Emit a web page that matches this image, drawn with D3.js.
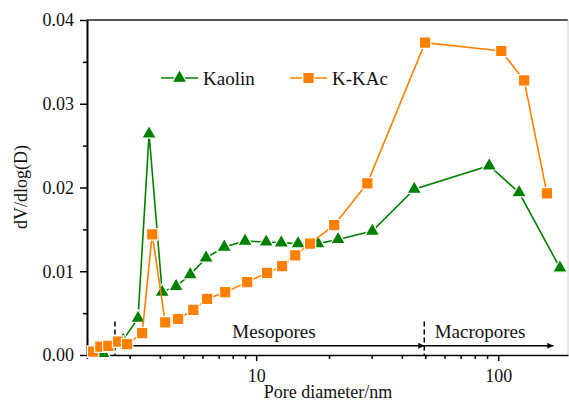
<!DOCTYPE html>
<html>
<head>
<meta charset="utf-8">
<script src="https://cdn.jsdelivr.net/npm/d3@7"></script>
<style>
  body { margin: 0; background: #fff; }
  svg, svg text { font-family: "Times New Roman", Times, "Liberation Serif", "DejaVu Serif", serif; }
  .axis path, .axis line { stroke: #000; }
  .axis text { font-size: 18px; fill: #111; }
</style>
</head>
<body>
<svg class="chart"></svg>
<script>
// Pore diameter (nm) and dV/dlog(D)
const kaolinD = [2.33, 2.82, 3.25, 3.61, 4.09, 4.67, 5.34, 6.21, 7.38, 9.0, 11.0, 12.7, 14.9, 18.0, 21.8, 30.2, 45.0, 91.8, 122, 180];
const kaolinV = [0.0002, 0.0018, 0.0044, 0.0264, 0.0075, 0.0082, 0.0096, 0.0116, 0.0129, 0.0136, 0.0135, 0.0134, 0.0133, 0.0133, 0.0138, 0.0148, 0.0198, 0.0226, 0.0194, 0.0104];

const kkacD = [2.12, 2.27, 2.45, 2.69, 2.93, 3.38, 3.72, 4.21, 4.76, 5.5, 6.27, 7.45, 9.18, 11.1, 12.8, 14.5, 16.7, 21.0, 28.8, 49.9, 103, 128, 159];
const kkacV = [0.0004, 0.001, 0.0011, 0.0016, 0.0013, 0.0026, 0.0144, 0.0039, 0.0043, 0.0054, 0.0067, 0.0075, 0.0087, 0.0098, 0.0106, 0.0119, 0.0133, 0.0155, 0.0205, 0.0373, 0.0363, 0.0328, 0.0193];

const xMajor = [10, 100];
const xMinor = [2, 3, 4, 5, 6, 7, 8, 9, 20, 30, 40, 50, 60, 70, 80, 90];
const yMajor = [0, 0.01, 0.02, 0.03, 0.04];
const yMinor = [0.005, 0.015, 0.025, 0.035];

// region annotation: boundaries (nm), arrow level, region names
const regionBounds = [2.61, 49.5, 169];
const arrowLevel = 0.0011;
const regionNames = ['Mesopores', 'Macropores'];

const series = [
  { name: 'Kaolin', d: kaolinD, v: kaolinV, color: '#008000', symbol: d3.symbolTriangle },
  { name: 'K-KAc', d: kkacD, v: kkacV, color: '#ff7f00', symbol: d3.symbolSquare }
];

const svgWidth = 569;
const svgHeight = 401;
const margin = {top: 20, right: 1, bottom: 46, left: 87};
const width = svgWidth - margin.left - margin.right;
const height = svgHeight - margin.top - margin.bottom;

const x = d3.scaleLog()
  .domain([2, 194.3])
  .range([0, width]);

const y = d3.scaleLinear()
  .domain([0, 0.04])
  .range([height, 0]);

const svg = d3.select('.chart')
  .attr('width', svgWidth)
  .attr('height', svgHeight)
  .append('g')
  .attr('transform', `translate(${margin.left},${margin.top})`);

// frame: top and right
svg.append('line')
  .attr('x1', 0).attr('x2', width).attr('y1', 0).attr('y2', 0)
  .attr('stroke', '#222').attr('stroke-width', 1.6);
svg.append('line')
  .attr('x1', width).attr('x2', width).attr('y1', 0).attr('y2', height)
  .attr('stroke', '#ccc').attr('stroke-width', 1);

// minor ticks first, then major with labels
svg.append('g')
  .attr('class', 'axis')
  .attr('transform', `translate(0,${height})`)
  .call(d3.axisBottom(x).tickValues(xMinor).tickSize(4).tickSizeOuter(0).tickFormat(''))
  .call(g => g.selectAll('line').attr('stroke-width', 1.5))
  .call(g => g.select('.domain').remove());

svg.append('g')
  .attr('class', 'axis')
  .attr('transform', `translate(0,${height})`)
  .call(d3.axisBottom(x).tickValues(xMajor).tickSize(6).tickSizeOuter(0).tickFormat(d3.format('d')))
  .call(g => g.attr('font-family', null))
  .call(g => g.selectAll('line').attr('stroke-width', 1.5))
  .call(g => g.select('.domain').attr('stroke-width', 1.6))
  .call(g => g.selectAll('text').attr('y', 14).attr('dy', '0.71em'));

svg.append('g')
  .attr('class', 'axis')
  .call(d3.axisLeft(y).tickValues(yMinor).tickSize(4).tickSizeOuter(0).tickFormat(''))
  .call(g => g.selectAll('line').attr('stroke-width', 1.5))
  .call(g => g.select('.domain').remove());

svg.append('g')
  .attr('class', 'axis')
  .call(d3.axisLeft(y).tickValues(yMajor).tickSize(7).tickSizeOuter(0).tickFormat(d3.format('.2f')))
  .call(g => g.attr('font-family', null))
  .call(g => g.selectAll('line').attr('stroke-width', 1.5))
  .call(g => g.select('.domain').attr('stroke-width', 2))
  .call(g => g.selectAll('text').attr('x', -13));

// arrow heads
const defs = svg.append('defs');
defs.append('marker')
  .attr('id', 'head')
  .attr('viewBox', '0 0 10 10')
  .attr('refX', 10).attr('refY', 5)
  .attr('markerWidth', 15).attr('markerHeight', 6)
  .attr('markerUnits', 'userSpaceOnUse')
  .attr('orient', 'auto-start-reverse')
  .append('path')
  .attr('d', 'M0,0L10,5L0,10Z')
  .attr('fill', '#000');

// region boundaries
svg.selectAll('.bound')
  .data(regionBounds.slice(0, 2))
  .enter().append('line')
  .attr('class', 'bound')
  .attr('x1', d => x(d)).attr('x2', d => x(d))
  .attr('y1', y(0.004)).attr('y2', height)
  .attr('stroke', '#000').attr('stroke-width', 1.5)
  .attr('stroke-dasharray', '5,3');

// region arrows
const ay = y(arrowLevel);
svg.append('line')
  .attr('x1', x(regionBounds[0])).attr('x2', x(regionBounds[1]))
  .attr('y1', ay).attr('y2', ay)
  .attr('stroke', '#000').attr('stroke-width', 1.5)
  .attr('marker-start', 'url(#head)')
  .attr('marker-end', 'url(#head)');
svg.append('line')
  .attr('x1', x(regionBounds[1])).attr('x2', x(regionBounds[2]))
  .attr('y1', ay).attr('y2', ay)
  .attr('stroke', '#000').attr('stroke-width', 1.5)
  .attr('marker-end', 'url(#head)');

svg.selectAll('.region')
  .data(regionNames)
  .enter().append('text')
  .attr('class', 'region')
  .attr('x', (d, i) => i === 0 ? 187 : 393)
  .attr('y', 318)
  .attr('text-anchor', 'middle')
  .style('font-size', '19px')
  .attr('fill', '#111')
  .text(d => d);

// series lines and markers
const line = d3.line()
  .x(d => x(d[0]))
  .y(d => y(d[1]));

series.forEach(s => {
  const pts = s.d.map((d, i) => [d, s.v[i]]);
  const g = svg.append('g');
  g.append('path')
    .attr('d', line(pts))
    .attr('fill', 'none')
    .attr('stroke', s.color)
    .attr('stroke-width', 1.6);
  const size = s.symbol === d3.symbolTriangle ? 95 : 130;
  g.selectAll('path.pt')
    .data(pts)
    .enter().append('path')
    .attr('class', 'pt')
    .attr('transform', d => `translate(${x(d[0])},${y(d[1])})`)
    .attr('d', d3.symbol().type(s.symbol).size(size))
    .attr('fill', s.color)
    .attr('stroke', '#fff')
    .attr('stroke-width', 1.2);
});

// legend
const legend = svg.append('g')
  .attr('transform', 'translate(74,58)');
series.forEach((s, i) => {
  const lg = legend.append('g').attr('transform', `translate(${i * 129},0)`);
  lg.append('line')
    .attr('x1', 0).attr('x2', 37).attr('y1', 0).attr('y2', 0)
    .attr('stroke', s.color).attr('stroke-width', 1.6);
  lg.append('path')
    .attr('transform', 'translate(18.5,0)')
    .attr('d', d3.symbol().type(s.symbol).size(s.symbol === d3.symbolTriangle ? 95 : 130))
    .attr('fill', s.color)
    .attr('stroke', '#fff')
    .attr('stroke-width', 1.2);
  lg.append('text')
    .attr('x', 42)
    .attr('y', 6.5)
    .style('font-size', '19px')
    .attr('fill', '#111')
    .text(s.name);
});

// axis titles
svg.append('text')
  .attr('x', 241)
  .attr('y', height + 43)
  .attr('text-anchor', 'middle')
  .style('font-size', '18px')
  .attr('fill', '#111')
  .text('Pore diameter/nm');

svg.append('text')
  .attr('transform', `translate(${27 - margin.left},${187 - margin.top}) rotate(-90)`)
  .attr('text-anchor', 'middle')
  .style('font-size', '18px')
  .attr('fill', '#111')
  .text('dV/dlog(D)');
</script>
</body>
</html>
